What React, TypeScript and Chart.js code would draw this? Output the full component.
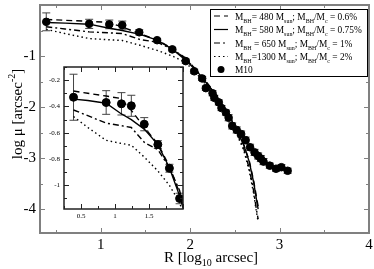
import React, { useEffect, useRef } from 'react';
import { Chart, registerables } from 'chart.js';
Chart.register(...registerables);

// ---- data (log10 R in arcsec, log mu) ----
const m10R = [0.39, 0.87, 1.095, 1.24, 1.43, 1.63, 1.8, 1.95, 2.045, 2.134, 2.175, 2.25, 2.27, 2.32, 2.35, 2.4, 2.43, 2.47, 2.52, 2.57, 2.62, 2.67, 2.72, 2.76, 2.79, 2.82, 2.89, 2.96, 3.02, 3.09];
const m10Mu = [-0.33, -0.37, -0.38, -0.395, -0.535, -0.69, -0.87, -1.1, -1.3, -1.44, -1.63, -1.73, -1.82, -1.91, -2.02, -2.11, -2.21, -2.37, -2.45, -2.53, -2.65, -2.79, -2.89, -2.96, -3.01, -3.07, -3.15, -3.21, -3.18, -3.25];
const m10Err = [0.175, 0.09, 0.085, 0.08, 0.05, 0.03, 0.03, 0.04, 0.04, 0.04, 0.04, 0.05, 0.05, 0.05, 0.05, 0.05, 0.06, 0.06, 0.06, 0.06, 0.06, 0.06, 0.06, 0.06, 0.06, 0.06, 0.05, 0.05, 0.05, 0.05];

const modelR = [0.39, 0.6, 0.87, 1.08, 1.24, 1.44, 1.63, 1.8, 1.95, 2.1, 2.25, 2.4, 2.5, 2.6, 2.66, 2.71, 2.74, 2.76];
const muBH480 = [-0.283, -0.3, -0.321, -0.339, -0.43, -0.565, -0.685, -0.854, -1.06, -1.33, -1.66, -2.05, -2.36, -2.74, -3.05, -3.45, -3.75, -3.95];
const muBH580 = [-0.344, -0.355, -0.376, -0.452, -0.5, -0.577, -0.69, -0.866, -1.08, -1.35, -1.68, -2.07, -2.38, -2.75, -3.07, -3.48, -3.8, -4.0];
const muBH650 = [-0.427, -0.47, -0.527, -0.545, -0.56, -0.678, -0.728, -0.866, -1.04, -1.34, -1.68, -2.08, -2.42, -2.82, -3.2, -3.65, -4.0, -4.2];
const muBH1300 = [-0.477, -0.56, -0.658, -0.68, -0.695, -0.79, -0.89, -1.0, -1.13, -1.4, -1.72, -2.12, -2.45, -2.85, -3.25, -3.7, -4.05, -4.25];

const xTicksMain = [1, 2, 3, 4];
const yTicksMain = [-1, -2, -3, -4];
const xTicksInset = [0.5, 1, 1.5];
const yTicksInset = [-0.2, -0.4, -0.6, -0.8, -1];

const legendMassText = ['= 480', '= 580', ' = 650', '=1300'];
const legendRatioText = ['0.6%', '0.75%', '1%', '2%'];
const legendDashes = [[6, 4], [], [6, 3, 2, 3], [1.5, 3]];
const dataLabel = 'M10';

const SERIF = '"Liberation Serif", "Times New Roman", serif';

type Seg = { t: string; size: number; dy: number };

function segsWidth(ctx: CanvasRenderingContext2D, segs: Seg[]) {
  let w = 0;
  for (const s of segs) {
    ctx.font = `${s.size}px ${SERIF}`;
    w += ctx.measureText(s.t).width;
  }
  return w;
}
function drawSegs(ctx: CanvasRenderingContext2D, segs: Seg[], x: number, y: number) {
  let cx = x;
  ctx.textBaseline = 'alphabetic';
  ctx.textAlign = 'left';
  for (const s of segs) {
    ctx.font = `${s.size}px ${SERIF}`;
    ctx.fillText(s.t, cx, y + s.dy);
    cx += ctx.measureText(s.t).width;
  }
}

function pts(xs: number[], ys: number[]) {
  return xs.map((x, i) => ({ x, y: ys[i] }));
}

function lineDs(label: string, ys: number[], dash: number[]) {
  return {
    label,
    data: pts(modelR, ys),
    borderColor: '#000',
    borderWidth: 1.4,
    borderDash: dash,
    pointRadius: 0,
    showLine: true,
    fill: false,
    tension: 0,
    order: 2,
  };
}

function buildDatasets(radius: number) {
  return [
    {
      label: dataLabel,
      data: pts(m10R, m10Mu),
      backgroundColor: '#000',
      borderColor: '#000',
      pointRadius: radius,
      pointStyle: 'circle',
      showLine: false,
      order: 0,
    },
    lineDs('480', muBH480, legendDashes[0]),
    lineDs('580', muBH580, legendDashes[1]),
    lineDs('650', muBH650, legendDashes[2]),
    lineDs('1300', muBH1300, legendDashes[3]),
  ];
}

type DecorCfg = {
  frameColor: string;
  frameWidth: number;
  xMinor: number;
  yMinor: number;
  xMajor: number;
  yMajor: number;
  majorLen: number;
  minorLen: number;
  cap: number;
  main: boolean;
};

function legendSegs(i: number, big: number, small: number): Seg[] {
  return [
    { t: 'M', size: big, dy: 0 },
    { t: 'BH', size: small, dy: 3 },
    { t: legendMassText[i] + ' M', size: big, dy: 0 },
    { t: 'sun', size: small, dy: 3 },
    { t: '; M', size: big, dy: 0 },
    { t: 'BH', size: small, dy: 3 },
    { t: '/M', size: big, dy: 0 },
    { t: 'c', size: small, dy: 3 },
    { t: ' = ' + legendRatioText[i], size: big, dy: 0 },
  ];
}

function makeDecor(cfg: DecorCfg) {
  return {
    id: 'decor',
    beforeDatasetsDraw(chart: any) {
      const ctx = chart.ctx as CanvasRenderingContext2D;
      const xs = chart.scales.x;
      const ys = chart.scales.y;
      const a = chart.chartArea;
      ctx.save();
      ctx.beginPath();
      ctx.rect(a.left, a.top, a.right - a.left, a.bottom - a.top);
      ctx.clip();
      ctx.strokeStyle = '#444';
      ctx.lineWidth = 1;
      for (let i = 0; i < m10R.length; i++) {
        const px = xs.getPixelForValue(m10R[i]);
        const y1 = ys.getPixelForValue(m10Mu[i] + m10Err[i]);
        const y2 = ys.getPixelForValue(m10Mu[i] - m10Err[i]);
        ctx.beginPath();
        ctx.moveTo(px, y1);
        ctx.lineTo(px, y2);
        ctx.moveTo(px - cfg.cap, y1);
        ctx.lineTo(px + cfg.cap, y1);
        ctx.moveTo(px - cfg.cap, y2);
        ctx.lineTo(px + cfg.cap, y2);
        ctx.stroke();
      }
      ctx.restore();
    },
    afterDraw(chart: any) {
      const ctx = chart.ctx as CanvasRenderingContext2D;
      const xs = chart.scales.x;
      const ys = chart.scales.y;
      const a = chart.chartArea;
      ctx.save();
      ctx.strokeStyle = cfg.frameColor;
      ctx.lineWidth = cfg.frameWidth;
      ctx.strokeRect(a.left, a.top, a.right - a.left, a.bottom - a.top);
      ctx.lineWidth = 1;
      ctx.beginPath();
      const eps = 1e-6;
      const isMajor = (v: number, step: number) => Math.abs(v / step - Math.round(v / step)) < 1e-6;
      for (let v = Math.ceil(xs.min / cfg.xMinor - eps) * cfg.xMinor; v <= xs.max + eps; v += cfg.xMinor) {
        const px = Math.round(xs.getPixelForValue(v)) + 0.5;
        const L = isMajor(v, cfg.xMajor) ? cfg.majorLen : cfg.minorLen;
        ctx.moveTo(px, a.bottom);
        ctx.lineTo(px, a.bottom - L);
        ctx.moveTo(px, a.top);
        ctx.lineTo(px, a.top + L);
      }
      for (let v = Math.ceil(ys.min / cfg.yMinor - eps) * cfg.yMinor; v <= ys.max + eps; v += cfg.yMinor) {
        const py = Math.round(ys.getPixelForValue(v)) + 0.5;
        const L = isMajor(v, cfg.yMajor) ? cfg.majorLen : cfg.minorLen;
        ctx.moveTo(a.left, py);
        ctx.lineTo(a.left + L, py);
        ctx.moveTo(a.right, py);
        ctx.lineTo(a.right - L, py);
      }
      ctx.stroke();

      if (cfg.main) {
        ctx.fillStyle = '#000';
        // x title
        const xt: Seg[] = [
          { t: 'R [log', size: 15, dy: 0 },
          { t: '10', size: 10, dy: 4 },
          { t: ' arcsec]', size: 15, dy: 0 },
        ];
        const xw = segsWidth(ctx, xt);
        drawSegs(ctx, xt, 211 - xw / 2, 262);
        // y title
        const yt: Seg[] = [
          { t: 'log \u03bc [arcsec', size: 15, dy: 0 },
          { t: '-2', size: 10, dy: -7 },
          { t: ']', size: 15, dy: 0 },
        ];
        const yw = segsWidth(ctx, yt);
        ctx.save();
        ctx.translate(22, 114);
        ctx.rotate(-Math.PI / 2);
        drawSegs(ctx, yt, -yw / 2, 0);
        ctx.restore();

        // legend
        const bx = 210, by = 9, bw = 157, bh = 67;
        ctx.fillStyle = '#fff';
        ctx.fillRect(bx, by, bw, bh);
        ctx.strokeStyle = '#000';
        ctx.lineWidth = 1;
        ctx.strokeRect(bx + 0.5, by + 0.5, bw, bh);
        // fit text so the widest row spans the reference width
        let maxW = 0;
        for (let i = 0; i < 4; i++) maxW = Math.max(maxW, segsWidth(ctx, legendSegs(i, 11, 7)));
        const k = Math.min(1, 127 / maxW);
        const big = 11 * k;
        const small = 7 * k;
        const rowY = [16, 29.5, 43, 56.5, 69.5];
        for (let i = 0; i < 4; i++) {
          ctx.save();
          ctx.strokeStyle = '#000';
          ctx.lineWidth = 1.2;
          ctx.setLineDash(legendDashes[i]);
          ctx.beginPath();
          ctx.moveTo(214, rowY[i]);
          ctx.lineTo(228, rowY[i]);
          ctx.stroke();
          ctx.restore();
          ctx.fillStyle = '#000';
          drawSegs(ctx, legendSegs(i, big, small), 235, rowY[i] + 3.5);
        }
        ctx.beginPath();
        ctx.fillStyle = '#000';
        ctx.arc(221, rowY[4], 3.5, 0, Math.PI * 2);
        ctx.fill();
        drawSegs(ctx, [{ t: dataLabel, size: big, dy: 0 }], 235, rowY[4] + 3.5);
      }
      ctx.restore();
    },
  };
}

function noPad(s: any) {
  s.paddingTop = 0;
  s.paddingBottom = 0;
  s.paddingLeft = 0;
  s.paddingRight = 0;
}

export default function App() {
  const mainRef = useRef<HTMLCanvasElement>(null);
  const insetRef = useRef<HTMLCanvasElement>(null);

  useEffect(() => {
    document.body.style.margin = '0';
    const main = new Chart(mainRef.current as HTMLCanvasElement, {
      type: 'scatter',
      data: { datasets: buildDatasets(3.8) as any },
      options: {
        responsive: false,
        animation: false,
        events: [],
        layout: { padding: { left: 0, top: 1, right: 4, bottom: 0 } },
        plugins: { legend: { display: false }, tooltip: { enabled: false } },
        scales: {
          x: {
            type: 'linear',
            min: 0.32,
            max: 4,
            grid: { display: false, drawTicks: false },
            border: { display: false },
            afterBuildTicks: (s: any) => {
              s.ticks = xTicksMain.map((v) => ({ value: v }));
            },
            afterFit: (s: any) => {
              s.height = 36;
              noPad(s);
            },
            ticks: {
              color: '#000',
              padding: 3,
              maxRotation: 0,
              autoSkip: false,
              font: { family: SERIF, size: 15 },
              callback: (v: any) => String(v),
            },
          },
          y: {
            type: 'linear',
            min: -4.47,
            max: 0,
            grid: { display: false, drawTicks: false },
            border: { display: false },
            afterBuildTicks: (s: any) => {
              s.ticks = yTicksMain.map((v) => ({ value: v }));
            },
            afterFit: (s: any) => {
              s.width = 40;
              noPad(s);
            },
            ticks: {
              color: '#000',
              padding: 4,
              autoSkip: false,
              font: { family: SERIF, size: 15 },
              callback: (v: any) => String(v),
            },
          },
        },
      },
      plugins: [
        makeDecor({
          frameColor: '#808080',
          frameWidth: 2,
          xMinor: 0.5,
          yMinor: 0.5,
          xMajor: 1,
          yMajor: 1,
          majorLen: 5,
          minorLen: 3,
          cap: 4,
          main: true,
        }),
      ],
    } as any);

    const inset = new Chart(insetRef.current as HTMLCanvasElement, {
      type: 'scatter',
      data: { datasets: buildDatasets(4) as any },
      options: {
        responsive: false,
        animation: false,
        events: [],
        layout: { padding: { left: 0, top: 7, right: 5, bottom: 0 } },
        plugins: { legend: { display: false }, tooltip: { enabled: false } },
        scales: {
          x: {
            type: 'linear',
            min: 0.25,
            max: 2.0,
            grid: { display: false, drawTicks: false },
            border: { display: false },
            afterBuildTicks: (s: any) => {
              s.ticks = xTicksInset.map((v) => ({ value: v }));
            },
            afterFit: (s: any) => {
              s.height = 13;
              noPad(s);
            },
            ticks: {
              color: '#000',
              padding: 3,
              maxRotation: 0,
              autoSkip: false,
              font: { family: SERIF, size: 7 },
              callback: (v: any) => String(v),
            },
          },
          y: {
            type: 'linear',
            min: -1.18,
            max: -0.1,
            grid: { display: false, drawTicks: false },
            border: { display: false },
            afterBuildTicks: (s: any) => {
              s.ticks = yTicksInset.map((v) => ({ value: v }));
            },
            afterFit: (s: any) => {
              s.width = 22;
              noPad(s);
            },
            ticks: {
              color: '#000',
              padding: 4,
              autoSkip: false,
              font: { family: SERIF, size: 7 },
              callback: (v: any) => String(v),
            },
          },
        },
      },
      plugins: [
        makeDecor({
          frameColor: '#222',
          frameWidth: 1.5,
          xMinor: 0.25,
          yMinor: 0.1,
          xMajor: 0.5,
          yMajor: 0.2,
          majorLen: 5,
          minorLen: 3,
          cap: 4,
          main: false,
        }),
      ],
    } as any);

    return () => {
      main.destroy();
      inset.destroy();
    };
  }, []);

  return (
    <div style={{ position: 'fixed', left: 0, top: 0, width: 374, height: 269, background: '#fff' }}>
      <canvas ref={mainRef} width={374} height={269} style={{ position: 'absolute', left: 0, top: 0, width: 374, height: 269 }} />
      <canvas ref={insetRef} width={146} height={162} style={{ position: 'absolute', left: 42, top: 60, width: 146, height: 162 }} />
    </div>
  );
}
